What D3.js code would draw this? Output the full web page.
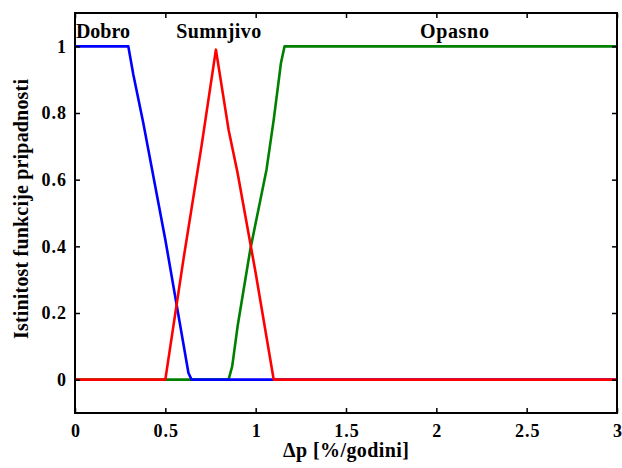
<!DOCTYPE html>
<html><head><meta charset="utf-8">
<script src="https://cdn.jsdelivr.net/npm/d3@7"></script>
<style>body{margin:0;background:#fff}text{font-family:"Liberation Serif","Times New Roman",serif;font-weight:bold}</style>
</head><body><svg id="c" width="622" height="468"></svg>
<script>
const xTicks = [0, 0.5, 1, 1.5, 2, 2.5, 3];
const yTicks = [0, 0.2, 0.4, 0.6, 0.8, 1];
const dobro = [[0,1],[0.295,1],[0.323,0.915],[0.378,0.77],[0.5,0.42],[0.628,0.02],[0.645,0],[3,0]];
const sumnjivo = [[0,0],[0.5,0],[0.6,0.36],[0.7,0.7],[0.78,0.99],[0.85,0.75],[0.9,0.62],[1.0,0.32],[1.1,0],[3,0]];
const opasno = [[0,0],[0.85,0],[0.87,0.04],[0.9,0.16],[0.97,0.39],[1.06,0.63],[1.1,0.78],[1.14,0.95],[1.16,1],[3,1]];
const labels = [{t:"Dobro",x:0.005,a:"start",w:54},{t:"Sumnjivo",x:0.795,a:"middle",w:85},{t:"Opasno",x:2.1,a:"middle",w:69}];

const svg = d3.select("#c");
const L=75,R=617,T=13,B=413;
const x = d3.scaleLinear().domain([0,3]).range([L,R]);
const y = d3.scaleLinear().domain([-0.1,1.1]).range([B,T]);

const line = d3.line().x(d=>x(d[0])).y(d=>y(d[1]));
[[opasno,"#008000"],[dobro,"#0000ff"],[sumnjivo,"#ff0000"]].forEach(([d,c])=>{
  svg.append("path").datum(d).attr("d",line).attr("fill","none").attr("stroke",c).attr("stroke-width",2.6).attr("stroke-linejoin","round");
});

const fs=18, fl=20;
const gx = svg.append("g").attr("transform",`translate(0,${B})`).call(d3.axisBottom(x).tickValues(xTicks).tickSize(-5).tickPadding(11).tickFormat(d3.format("")));
const gxt = svg.append("g").attr("transform",`translate(0,${T})`).call(d3.axisTop(x).tickValues(xTicks).tickSize(-5).tickFormat(""));
const gy = svg.append("g").attr("transform",`translate(${L},0)`).call(d3.axisLeft(y).tickValues(yTicks).tickSize(-5).tickPadding(8).tickFormat(d3.format("")));
const gyr = svg.append("g").attr("transform",`translate(${R},0)`).call(d3.axisRight(y).tickValues(yTicks).tickSize(-5).tickFormat(""));
[gx,gxt,gy,gyr].forEach(g=>{
  g.selectAll(".domain").remove();
  g.selectAll("line").attr("stroke","#000").attr("stroke-width",1.5);
  g.selectAll("text").attr("font-size",fs).attr("fill","#000").attr("letter-spacing",1).style("font-family","Liberation Serif").style("font-weight","bold");
});
gx.selectAll("text").attr("dx",0.5);
svg.append("rect").attr("x",L).attr("y",T).attr("width",R-L).attr("height",B-T).attr("fill","none").attr("stroke","#000").attr("stroke-width",2);

svg.append("text").attr("x",x(1.5)).attr("y",457).attr("text-anchor","middle").attr("font-size",fl)
  .attr("textLength",126).attr("lengthAdjust","spacing").text("Δp [%/godini]");
svg.append("text").attr("transform",`translate(28,209) rotate(-90)`).attr("text-anchor","middle").attr("font-size",fl)
  .attr("textLength",260).attr("lengthAdjust","spacing").text("Istinitost funkcije pripadnosti");
labels.forEach(l=>svg.append("text").attr("x",x(l.x)).attr("y",38).attr("text-anchor",l.a).attr("font-size",fl)
  .attr("textLength",l.w).attr("lengthAdjust","spacing").text(l.t));
</script></body></html>
